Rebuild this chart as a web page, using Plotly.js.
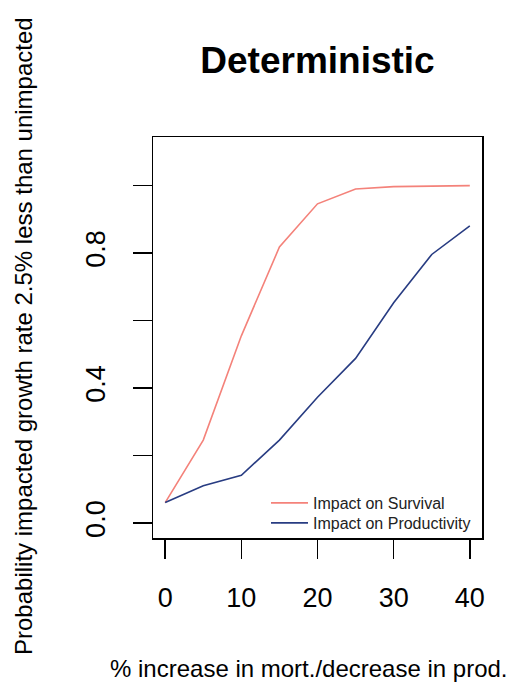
<!DOCTYPE html>
<html>
<head>
<meta charset="utf-8">
<script src="https://cdn.plot.ly/plotly-3.0.1.min.js"></script>
<style>html,body{margin:0;padding:0;background:#fff;}#chart{width:518px;height:688px;}</style>
</head>
<body>
<div id="chart"></div>
<script>
var xValues = [0, 5, 10, 15, 20, 25, 30, 35, 40];
var survival = [0.061, 0.246, 0.555, 0.818, 0.946, 0.990, 0.997, 0.999, 1.0];
var productivity = [0.061, 0.111, 0.142, 0.246, 0.373, 0.488, 0.653, 0.796, 0.881];
var seriesNames = ["Impact on Survival", "Impact on Productivity"];
var xTickVals = [0, 10, 20, 30, 40];
var xTickText = ["0", "10", "20", "30", "40"];
var yTickVals = [0, 0.2, 0.4, 0.6, 0.8, 1.0];
var yTickText = ["0.0", "", "0.4", "", "0.8", ""];

var FONT = "Liberation Sans, Arial, sans-serif";

var traces = [
  {x: xValues, y: survival, name: seriesNames[0], type: "scatter", mode: "lines",
   line: {color: "#F4827A", width: 1.6}, legend: "legend"},
  {x: xValues, y: productivity, name: seriesNames[1], type: "scatter", mode: "lines",
   line: {color: "#283C82", width: 1.6}, legend: "legend2"}
];

function legendAt(yPx) {
  return {x: (266 - 153) / 329, xanchor: "left", y: (538 - yPx) / 401, yanchor: "middle",
          bgcolor: "rgba(0,0,0,0)", borderwidth: 0, itemwidth: 37,
          font: {family: FONT, size: 16, color: "#222"}};
}

var layout = {
  width: 518, height: 688,
  margin: {l: 153, r: 36, t: 137, b: 150},
  paper_bgcolor: "#fff", plot_bgcolor: "#fff",
  font: {family: FONT, color: "#000"},
  title: {text: "<b>Deterministic</b>", font: {family: FONT, size: 37, color: "#000"},
          xref: "paper", x: 0.5, xanchor: "center", yref: "container", y: 1 - 60/688, yanchor: "middle"},
  xaxis: {range: [-1.6, 41.6], showgrid: false, zeroline: false,
          showline: true, mirror: true, linecolor: "#000", linewidth: 1.5,
          tickmode: "array", tickvals: xTickVals, ticktext: xTickText,
          ticks: "outside", ticklen: 19, tickwidth: 1.5, tickcolor: "#000",
          tickfont: {family: FONT, size: 27, color: "#000"}, ticklabelstandoff: 16,
          title: {text: ""}},
  yaxis: {range: [-0.044, 1.144], showgrid: false, zeroline: false,
          showline: true, mirror: true, linecolor: "#000", linewidth: 1.5,
          tickmode: "array", tickvals: yTickVals, ticktext: yTickText,
          ticks: "outside", ticklen: 19, tickwidth: 1.5, tickcolor: "#000",
          tickangle: -90,
          tickfont: {family: FONT, size: 27, color: "#000"}, ticklabelstandoff: 17,
          title: {text: ""}},
  showlegend: true,
  legend: legendAt(503),
  legend2: legendAt(523),
  annotations: [
    {text: "% increase in mort./decrease in prod.", xref: "paper", yref: "paper",
     x: (309 - 153) / 329, y: -(668 - 538) / 401, xanchor: "center", yanchor: "middle",
     showarrow: false, font: {family: FONT, size: 24, color: "#000"}},
    {text: "Probability impacted growth rate 2.5% less than unimpacted", xref: "paper", yref: "paper",
     x: -(153 - 23) / 329, y: (538 - 336) / 401, xanchor: "center", yanchor: "middle", textangle: -90,
     showarrow: false, font: {family: FONT, size: 24, color: "#000"}}
  ]
};

Plotly.newPlot("chart", traces, layout, {displayModeBar: false, staticPlot: true});
</script>
</body>
</html>
